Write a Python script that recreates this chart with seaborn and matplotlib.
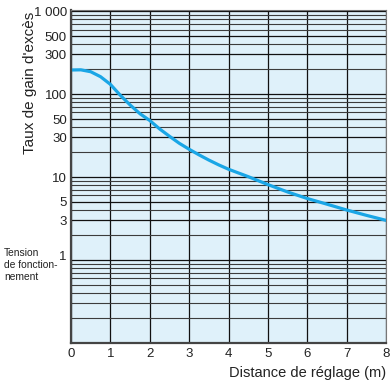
import matplotlib
matplotlib.use("Agg")
import matplotlib.pyplot as plt
import matplotlib.transforms as mtransforms
import seaborn as sns
import pandas as pd
from matplotlib.ticker import FixedLocator, NullFormatter

distance = [0, 0.25, 0.5, 0.75, 1, 1.25, 1.5, 1.75, 2, 2.25, 2.5, 2.75, 3, 3.25,
            3.5, 3.75, 4, 4.5, 5, 5.5, 6, 6.5, 7, 7.5, 8]
gain = [195, 196, 186, 162, 131, 97, 74, 58, 48, 38, 31, 25.5, 21.6, 18.5,
        16, 14, 12.4, 10.1, 8.1, 6.6, 5.5, 4.7, 4.0, 3.45, 3.0]
ytick_vals = [1, 3, 5, 10, 30, 50, 100, 300, 500, 1000]
ytick_labels = ["1", "3", "5", "10", "30", "50", "100", "300", "500", "1 000"]
xtick_vals = [0, 1, 2, 3, 4, 5, 6, 7, 8]

sns.set_theme(style="white")
plt.rcParams["font.family"] = ["Liberation Sans", "DejaVu Sans"]

df = pd.DataFrame({"Distance": distance, "Gain": gain})

fig = plt.figure(figsize=(3.9, 3.87), dpi=100)
ax = fig.add_axes([0.182, 0.114, 0.808, 0.86])
ax.set_facecolor("#dff1fa")

ax.set_yscale("log")
ax.set_ylim(0.1, 1030)
ax.set_xlim(0, 8)

ax.set_yticks(ytick_vals)
ax.set_yticklabels(ytick_labels)
ax.yaxis.set_minor_locator(FixedLocator(
    [m * 10 ** e for e in range(-1, 3) for m in range(2, 10)]))
ax.yaxis.set_minor_formatter(NullFormatter())
ax.grid(which="minor", axis="y", color="#3c3c3c", linewidth=0.8)
ax.grid(which="major", axis="y", color="#111111", linewidth=0.9)
ax.set_xticks(xtick_vals)
ax.grid(which="major", axis="x", color="#111111", linewidth=0.9)
ax.set_axisbelow(True)

sns.lineplot(data=df, x="Distance", y="Gain", ax=ax, color="#1aa6e6",
             linewidth=2.3, solid_joinstyle="round", solid_capstyle="round")

ax.tick_params(axis="both", which="both", length=0, labelsize=9.5, colors="#222222")
ax.tick_params(axis="y", pad=3)
ax.tick_params(axis="x", pad=4)

# the "1" label sits slightly raised in the reference
for lab in ax.get_yticklabels():
    if lab.get_text() == "1":
        lab.set_transform(lab.get_transform() +
                          mtransforms.ScaledTranslation(0, 4 / 100, fig.dpi_scale_trans))

for s in ["left", "bottom"]:
    ax.spines[s].set_color("#444444")
    ax.spines[s].set_linewidth(1.6)
for s in ["top", "right"]:
    ax.spines[s].set_color("#777777")
    ax.spines[s].set_linewidth(0.8)

ax.set_xlabel("")
ax.set_ylabel("")
fig.text(0.078, 0.97, "Taux de gain d'excès", rotation=90, ha="center", va="top",
         fontsize=11, color="#222222")
fig.text(0.99, 0.018, "Distance de réglage (m)", ha="right", va="bottom",
         fontsize=10.5, color="#222222")
fig.text(0.01, 0.315, "Tension\nde fonction-\nnement", ha="left", va="center",
         fontsize=7.4, color="#222222", linespacing=1.25)

fig.savefig("out.png", dpi=100)
